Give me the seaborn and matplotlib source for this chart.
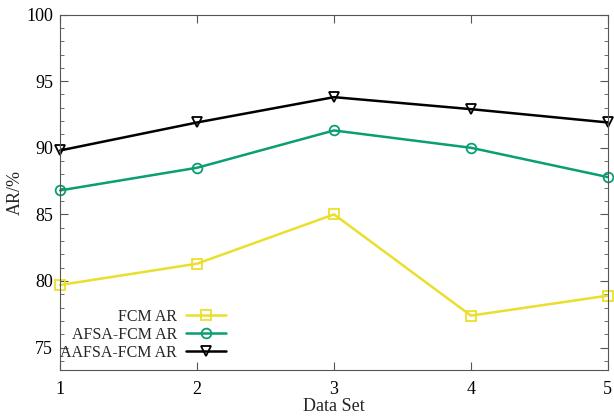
import matplotlib
matplotlib.use("Agg")
import matplotlib.pyplot as plt
import seaborn as sns
import pandas as pd
from matplotlib.ticker import MultipleLocator

data_sets = [1, 2, 3, 4, 5]
fcm_ar = [79.7, 81.3, 85.0, 77.4, 78.9]
afsa_fcm_ar = [86.8, 88.5, 91.3, 90.0, 87.8]
aafsa_fcm_ar = [89.8, 91.9, 93.8, 92.9, 91.9]

series_names = ["FCM AR", "AFSA-FCM AR", "AAFSA-FCM AR"]
colors = ["#eadf2c", "#0a9e73", "#000000"]
markers = ["s", "o", "v"]

df = pd.DataFrame({
    "Data Set": data_sets * 3,
    "AR": fcm_ar + afsa_fcm_ar + aafsa_fcm_ar,
    "Series": sum([[n] * len(data_sets) for n in series_names], []),
})

sns.set_style("ticks")
plt.rcParams["font.family"] = ["Liberation Serif", "DejaVu Serif"]

fig, ax = plt.subplots(figsize=(6.14, 4.16), dpi=100)
for name, c, m in zip(series_names, colors, markers):
    sub = df[df["Series"] == name]
    sns.lineplot(data=sub, x="Data Set", y="AR", ax=ax, color=c, marker=m,
                 markersize=7, markerfacecolor="none", markeredgecolor=c,
                 markeredgewidth=1.3, linewidth=1.8, label=name, clip_on=False)

ax.set_xlim(1, 5)
ax.set_ylim(73.3, 100)
ax.set_xticks(data_sets)
ax.yaxis.set_major_locator(MultipleLocator(5))
ax.yaxis.set_minor_locator(MultipleLocator(1))
ax.tick_params(axis="both", which="both", direction="in", top=True, right=True,
               labelsize=13, colors="#555555", labelcolor="black")
ax.tick_params(axis="both", which="major", length=6)
ax.tick_params(axis="both", which="minor", length=3)
ax.tick_params(axis="x", pad=8)
ax.tick_params(axis="y", pad=5)
for s in ax.spines.values():
    s.set_color("#555555")
ax.set_xlabel("Data Set", fontsize=13, labelpad=0)
ax.set_ylabel("AR/%", fontsize=13, labelpad=2)

leg = ax.legend(loc="lower right", bbox_to_anchor=(0.317, 0.004), frameon=False,
                markerfirst=False, fontsize=11.5, handlelength=2.5,
                labelspacing=0.12, handletextpad=0.55, borderpad=0.0)
for t in leg.get_texts():
    t.set_ha("right")
leg._legend_box.align = "right"

fig.subplots_adjust(left=0.098, right=0.99, top=0.965, bottom=0.11)
fig.savefig("out.png", dpi=100)
